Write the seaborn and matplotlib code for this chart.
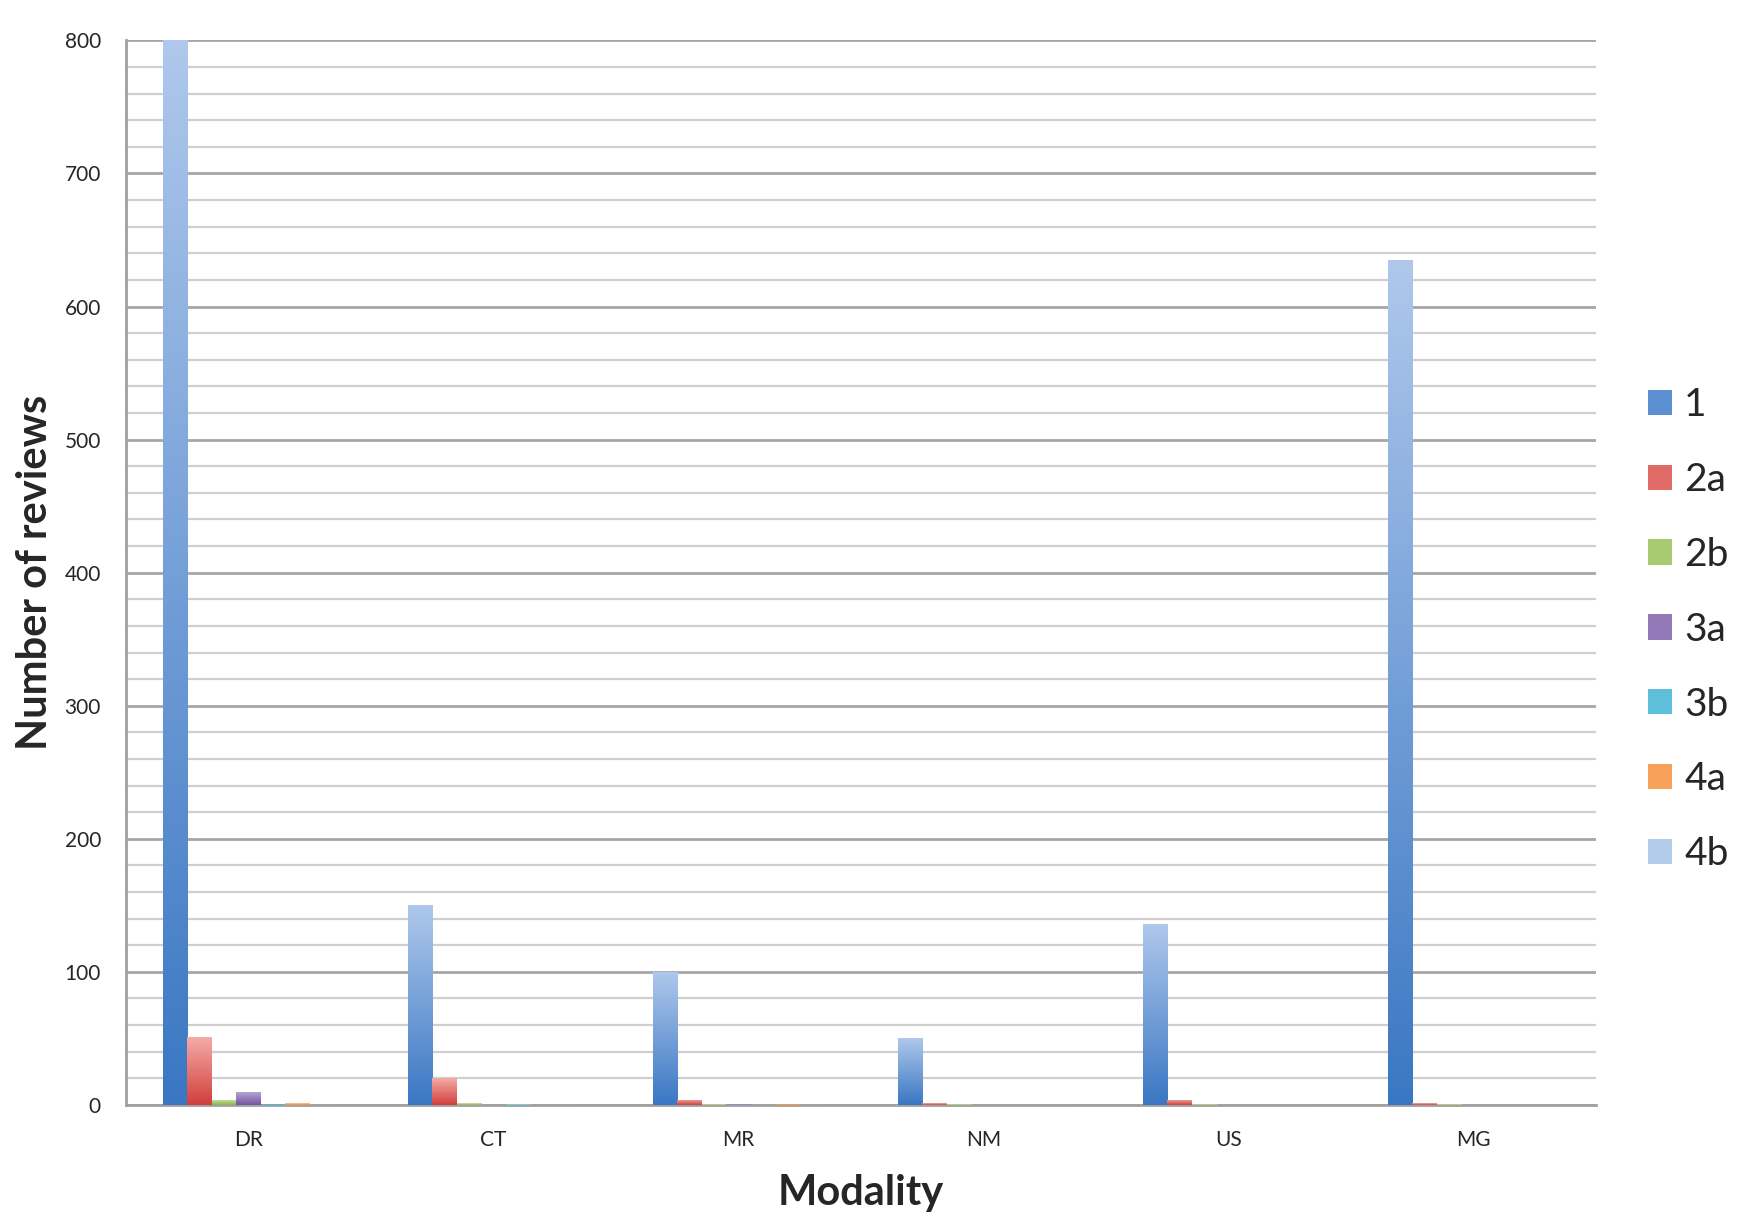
import numpy as np
import pandas as pd
import matplotlib
matplotlib.use("Agg")
import matplotlib.pyplot as plt
import seaborn as sns
from matplotlib.colors import LinearSegmentedColormap
from matplotlib.patches import Patch

# ===============================
# Data
# ===============================
modalities = ["DR", "CT", "MR", "NM", "US", "MG"]
levels = ["1", "2a", "2b", "3a", "3b", "4a", "4b"]

level_1 = [800, 150, 100, 50, 136, 635]
level_2a = [51, 20, 4, 1.3, 4, 1.3]
level_2b = [4, 1.5, 0.5, 0.5, 0.6, 0.5]
level_3a = [10, 0.3, 0.4, 0, 0, 0]
level_3b = [1, 0.6, 0, 0, 0, 0]
level_4a = [1.5, 0, 1, 0, 0, 0]
level_4b = [0, 0, 0, 0, 0, 0]

series = [level_1, level_2a, level_2b, level_3a, level_3b, level_4a, level_4b]

# gradient colours (top, bottom) for each level
tops = ["#AFC8EC", "#F5ABA8", "#CFE4A8", "#BCA9D6", "#A5DDEC", "#FCC692", "#C9DAF0"]
bottoms = ["#3A77C3", "#D13F3B", "#8BB648", "#73559F", "#38A7C8", "#F2892C", "#9DBBE3"]
mids = ["#5B8FD2", "#E06A66", "#A8CB72", "#9479B8", "#5EBFDA", "#F7A15A", "#B3CCEA"]

rows = []
for lev, vals in zip(levels, series):
    for m, v in zip(modalities, vals):
        rows.append({"Modality": m, "Level": lev, "Reviews": v})
df = pd.DataFrame(rows)

# ===============================
# Plot
# ===============================
sns.set_style("white")
plt.rcParams["font.family"] = ["Lato", "DejaVu Sans"]

fig = plt.figure(figsize=(17.5, 12.25), dpi=100)
ax = fig.add_axes([0.072, 0.098, 0.84, 0.869])

sns.barplot(data=df, x="Modality", y="Reviews", hue="Level",
            order=modalities, hue_order=levels, palette=mids,
            width=0.7, ax=ax, legend=False, errorbar=None)

# gradient fill in every bar
grad = np.linspace(0, 1, 256).reshape(-1, 1)
for cont, top, bot in zip(ax.containers, tops, bottoms):
    cmap = LinearSegmentedColormap.from_list("g", [bot, top])
    for bar in cont:
        x, y = bar.get_x(), bar.get_y()
        w, h = bar.get_width(), bar.get_height()
        if h <= 0:
            continue
        bar.set_facecolor("none")
        bar.set_edgecolor("none")
        im = ax.imshow(grad, cmap=cmap, aspect="auto", origin="lower",
                       extent=[x, x + w, y, y + h], zorder=3)
        im.set_clip_path(bar)

ax.set_xlim(-0.5, 5.5)
ax.set_ylim(0, 800)

# grid: major every 100, minor every 20
ax.set_yticks(np.arange(0, 801, 100))
ax.set_yticks(np.arange(0, 801, 20), minor=True)
ax.grid(axis="y", which="major", color="#A6A6A6", linewidth=2.0)
ax.grid(axis="y", which="minor", color="#CFCFCF", linewidth=1.6)
ax.set_axisbelow(True)

for s in ["top", "right"]:
    ax.spines[s].set_visible(False)
for s in ["left", "bottom"]:
    ax.spines[s].set_color("#A0A0A0")
    ax.spines[s].set_linewidth(2.0)

ax.tick_params(axis="y", which="major", length=8, width=1.6, color="#A0A0A0",
               labelsize=15, pad=10)
ax.tick_params(axis="y", which="minor", length=0)
ax.tick_params(axis="x", length=0, labelsize=15, pad=18)

ax.set_xlabel("Modality", fontsize=30, fontweight="bold", labelpad=17)
ax.set_ylabel("Number of reviews", fontsize=30, fontweight="bold", labelpad=8)

handles = [Patch(facecolor=c, edgecolor="none") for c in mids]
fig.legend(handles, levels, loc="center left", bbox_to_anchor=(0.933, 0.486),
           frameon=False, fontsize=28, handlelength=0.62, handleheight=0.62,
           handletextpad=0.3, labelspacing=1.0, borderaxespad=0.0)

fig.savefig("out.png", dpi=100)
